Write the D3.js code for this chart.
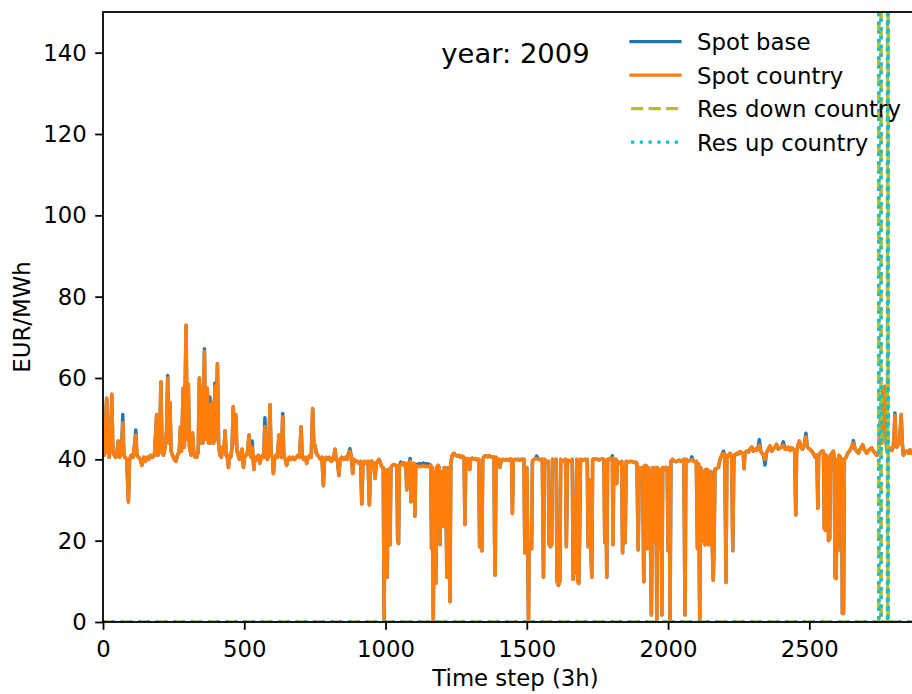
<!DOCTYPE html>
<html>
<head>
<meta charset="utf-8">
<script src="https://cdn.jsdelivr.net/npm/d3@7"></script>
<style>
  body { margin: 0; background: #fff; }
  svg { display: block; font-family: "DejaVu Sans", sans-serif; }
</style>
</head>
<body>
<div id="chart"></div>
<script>
// Series names, in legend order
const seriesNames = ["Spot base", "Spot country", "Res down country", "Res up country"];
const yearLabel = "year: 2009";

// Spot price country as [time step, EUR/MWh] vertices
const spotCountry = [
  [0,44],[4,41],[8,48],[13,55],[17,42],[22,40.5],[27,44],[31,56],[35,42],[40,41],[45,40.5],[50,42],[54,44.5],[58,40.5],[62,41],[66,42],[70,49],[74,41],[78,40.5],[84,40],[90,29.5],[94,40],[100,41],[106,40.5],[111,43],[116,46],[120,41],[126,40.5],[132,40],[138,38.5],[144,40.5],[150,39.5],[156,40.5],[162,40],[168,41],[175,40.5],[182,41],[190,51],[194,41],[200,42],[205,59],[209,42],[214,41],[220,43],[225,47],[229,60],[233,44],[237,54],[241,42],[246,41],[252,40],[258,39.5],[264,41],[270,42],[274,48],[278,42],[284,57.5],[288,43],[294,73],[298,45],[302,58.5],[306,43],[312,41],[317,46.5],[321,42],[326,40.5],[332,40.5],[337,42],[341,60],[345,44],[350,58],[354,44],[359,66.5],[363,45],[369,57.5],[373,44],[378,53.5],[382,44],[388,54],[392,44],[396,58],[400,45],[405,63.5],[409,44],[414,41],[419,40.5],[424,43],[428,42],[432,47],[436,41],[440,40.5],[444,38],[448,41],[452,40.5],[457,43],[461,53],[465,44],[470,51],[474,42],[478,41],[483,40],[488,41.5],[492,42.5],[497,38],[501,40.5],[506,41],[512,42],[517,46],[521,41],[525,40.5],[528,43],[534,37.5],[538,40.5],[544,40],[550,41],[555,39],[560,40.5],[565,41],[569,40.5],[573,48],[577,41],[582,40],[586,41],[591,53.5],[595,41],[600,40.5],[603,36.5],[607,40],[612,41],[617,40.5],[623,46],[627,41],[632,40.5],[636,50.5],[640,41],[645,40],[650,38.5],[655,40],[660,40.5],[666,40],[672,40.5],[678,40],[685,40.5],[690,41],[696,40.5],[701,48],[705,41],[710,40],[716,40.5],[721,39],[726,40.5],[732,41],[737,40.5],[742,52.5],[746,44],[750,43.5],[755,41.5],[760,41],[765,40.5],[770,40],[775,40.5],[780,33.5],[784,40],[790,40.5],[796,40],[802,40.5],[808,39.5],[814,40],[818,41],[821,42.5],[825,40],[830,39.5],[835,36],[839,40],[845,40.5],[852,40],[858,40.5],[864,40],[869,41.5],[874,42],[878,41],[884,36.5],[888,40],[894,39.5],[900,39.5],[906,39],[912,39.5],[916,29],[920,39],[926,39.5],[932,39],[938,39.5],[943,28.8],[947,39.5],[952,39.5],[958,39],[963,35.3],[967,39],[972,39.5],[977,40],[982,39],[986,38.2],[992,38],[995,0],[998,37.5],[1002,37],[1006,11],[1009,37.5],[1012,20],[1016,19],[1019,38],[1024,38.5],[1028,38.7],[1034,38.5],[1040,38.5],[1043,20],[1046,19.3],[1049,38.5],[1054,38.7],[1058,39],[1064,38.5],[1068,39],[1072,39],[1075,32.5],[1078,39],[1083,39],[1087,39.5],[1090,29.6],[1093,39],[1098,38.7],[1101,39],[1104,26],[1107,38.5],[1113,38.2],[1120,38.3],[1127,38.2],[1134,38.5],[1140,38.2],[1147,38.3],[1154,38.2],[1160,38.5],[1163,18],[1166,38],[1169,0],[1172,37],[1175,10],[1178,9.5],[1181,38],[1186,38.5],[1190,38],[1193,19],[1196,37],[1200,30],[1205,23.5],[1208,38],[1213,37],[1217,11],[1220,38],[1225,37],[1228,5],[1231,39],[1236,41],[1242,41.5],[1248,41],[1254,40.8],[1260,41],[1266,40.5],[1272,40.8],[1278,40.5],[1281,24],[1284,40],[1290,40.2],[1295,40],[1298,37.5],[1301,40],[1307,40.3],[1313,40],[1319,40.2],[1325,39.8],[1330,40],[1333,18.5],[1338,19],[1341,17.5],[1344,40],[1350,40.8],[1356,40.9],[1362,40.6],[1368,40.9],[1374,40.5],[1380,40.6],[1384,40.5],[1386,20],[1388,11.5],[1391,40.5],[1396,39.8],[1401,40],[1405,38],[1410,39.8],[1416,40],[1422,39.8],[1428,40],[1434,39.8],[1440,40],[1446,40],[1449,26.7],[1452,39.8],[1458,40],[1464,39.9],[1470,40],[1476,39.8],[1482,40],[1490,40],[1493,17],[1497,17.5],[1500,38],[1503,20],[1506,0],[1508,20],[1512,18],[1517,18],[1520,39.5],[1525,40],[1530,40.1],[1535,40.2],[1541,40],[1547,39.9],[1552,40],[1555,40],[1559,11],[1562,40],[1567,39.5],[1571,39],[1576,39.5],[1579,19],[1584,18.5],[1588,19],[1591,40],[1596,39.7],[1600,39.5],[1604,40],[1607,10],[1612,9],[1617,10],[1620,40],[1625,39.6],[1630,39.5],[1637,40],[1640,18.5],[1644,39.8],[1650,39.6],[1655,39.5],[1661,40],[1664,10.5],[1668,30],[1672,12],[1677,40],[1680,10],[1684,9.5],[1687,21],[1690,40],[1695,39.9],[1700,39.8],[1706,40],[1710,39.8],[1714,40],[1717,18.5],[1720,35],[1726,19],[1730,11],[1733,40],[1738,40.1],[1744,40],[1750,40],[1756,39.9],[1762,40],[1768,40.1],[1773,40],[1776,19.5],[1779,39],[1783,11],[1786,40],[1791,40.1],[1795,40.2],[1800,40],[1803,40.3],[1805,19],[1808,40],[1812,39.8],[1815,40],[1818,34],[1821,39.5],[1826,39.2],[1830,39],[1836,39.5],[1839,17],[1843,38],[1848,19.5],[1852,39.5],[1857,39.4],[1863,39.4],[1869,39.5],[1875,39.4],[1880,39.2],[1885,39.3],[1890,39],[1894,17.7],[1898,38],[1903,37.5],[1910,38],[1914,9.9],[1918,38.5],[1922,38.5],[1927,18],[1931,38],[1936,30],[1941,1.7],[1945,38],[1950,37.5],[1953,20],[1957,38],[1960,0.5],[1963,38],[1966,18],[1970,36],[1975,37.5],[1978,1.7],[1981,38],[1986,37.5],[1992,38],[1997,37.5],[2000,17.5],[2004,38],[2007,0],[2010,39.5],[2016,40],[2022,39.6],[2028,39.4],[2034,39.6],[2040,39.8],[2046,39.5],[2052,39.8],[2056,40],[2060,1.7],[2063,40],[2068,39.7],[2074,39.6],[2080,39.8],[2084,40],[2090,39.5],[2096,39.4],[2100,39.5],[2104,18],[2108,39],[2112,0],[2115,38],[2118,37.5],[2122,37],[2126,20],[2131,19],[2134,37.5],[2140,37.5],[2143,19],[2148,20],[2152,37],[2156,20],[2160,10.3],[2163,20],[2166,37.5],[2172,37.8],[2178,38],[2184,40],[2190,41],[2196,41.5],[2201,41],[2205,9.7],[2208,40],[2213,41],[2219,41.5],[2225,41],[2229,17.5],[2233,41],[2237,41],[2243,41.5],[2249,41.3],[2255,41.9],[2261,41.5],[2266,41.5],[2269,37.7],[2272,41.5],[2278,42],[2284,41.8],[2290,42.5],[2296,43],[2302,42],[2308,42.5],[2314,42.3],[2318,42.6],[2323,43.5],[2328,42],[2333,41.5],[2338,41],[2343,40],[2348,41.5],[2355,42.5],[2361,43.3],[2367,42],[2372,42.5],[2378,43],[2384,43.7],[2390,42.5],[2396,42.8],[2402,43],[2408,43.5],[2414,42.5],[2420,42.5],[2426,43],[2432,42.2],[2438,42.8],[2443,42.5],[2448,42],[2452,26.3],[2455,42],[2460,43.5],[2465,44.5],[2470,43],[2476,42.5],[2482,43.5],[2488,45.5],[2493,43],[2497,42.7],[2502,42.5],[2508,42],[2514,41.5],[2520,40.6],[2524,41],[2527,41],[2530,28],[2533,41],[2538,41.5],[2544,42],[2550,42],[2553,23],[2557,22.5],[2560,41],[2565,40],[2568,20],[2572,20.5],[2575,41],[2580,41.5],[2585,42],[2588,40],[2591,11],[2595,10.7],[2598,40],[2601,17.5],[2605,41],[2610,40.5],[2614,40],[2617,2.1],[2621,2.1],[2624,40],[2630,40.5],[2636,41.5],[2642,42],[2648,42.8],[2652,43.5],[2656,44],[2662,42.5],[2668,42],[2674,41.5],[2680,42.5],[2684,43],[2689,43.6],[2694,42.5],[2699,42],[2703,41.5],[2708,42],[2714,42.5],[2721,42.8],[2727,42],[2733,41.5],[2739,41],[2745,41.5],[2748,45],[2752,50],[2756,44],[2760,57.5],[2764,48],[2768,58],[2772,44],[2776,42],[2781,43],[2786,42.5],[2792,42.2],[2797,43],[2800,46],[2803,50.8],[2806,45],[2810,43],[2815,43.6],[2820,45],[2825,51],[2829,44],[2833,41],[2839,41.8],[2845,42],[2851,41.5],[2856,42.3],[2862,41.5],[2868,41.8],[2874,41.2],[2880,41.5],[2890,41],[2900,41.5],[2910,41],[2919,41.2]
];

// Spot base: same as country except at these steps
const spotBaseDiff = [
  [70,51],[116,47.2],[229,60.6],[359,67.2],[378,55.3],[396,58.8],[528,44.5],[573,50.2],[636,51.3],[874,42.6],
  [1054,39.3],[1064,39.1],[1087,40.2],[1113,38.8],[1120,38.9],[1127,38.8],[1134,39.1],[1140,38.8],[1147,38.9],[1154,38.8],
  [1535,40.8],[1803,40.9],[2084,40.6],[2196,42],[2323,44.8],[2343,38.6],[2408,44.3],[2488,46.4],[2656,44.6],[2803,51.4]
];

// Reserve prices: zero except two spikes far above the axis
const resDown = [[0,0],[2746,0],[2746,500],[2754,500],[2754,0],[2777,0],[2777,500],[2779,500],[2779,0],[2919,0]];
const resUp = [[0,0],[2746,0],[2746,500],[2754,500],[2754,0],[2777,0],[2777,500],[2779,500],[2779,0],[2919,0]];

const xTicks = [0, 500, 1000, 1500, 2000, 2500];
const yTicks = [0, 20, 40, 60, 80, 100, 120, 140];

// Build spot base from country + differences
const baseMap = new Map(spotBaseDiff);
const spotBase = spotCountry.map(([t, v]) => [t, baseMap.has(t) ? baseMap.get(t) : v]);

// Dimensions
const width = 912;
const height = 694;
const margin = { top: 12, left: 103 };
const plotW = 825;
const plotH = 610;

const svg = d3
  .select("#chart")
  .append("svg")
  .attr("width", width)
  .attr("height", height);

svg.append("rect").attr("width", width).attr("height", height).attr("fill", "#fff");

const xScale = d3.scaleLinear().domain([0, 2920]).range([margin.left, margin.left + plotW]);
const yScale = d3.scaleLinear().domain([0, 150]).range([margin.top + plotH, margin.top]);

svg
  .append("clipPath")
  .attr("id", "clip")
  .append("rect")
  .attr("x", margin.left)
  .attr("y", margin.top)
  .attr("width", plotW)
  .attr("height", plotH);

const line = d3
  .line()
  .x((d) => xScale(d[0]))
  .y((d) => yScale(d[1]));

const lw = 3.5;
const styles = [
  { color: "#1f77b4", dash: null, cap: "square" },
  { color: "#ff7f0e", dash: null, cap: "square" },
  { color: "#bcbd22", dash: `${3.7 * 3.3},${1.6 * 3.3}`, cap: "butt" },
  { color: "#17becf", dash: `${1 * 3.3},${1.65 * 3.3}`, cap: "butt" },
];
const series = [spotBase, spotCountry, resDown, resUp];

const plot = svg.append("g").attr("clip-path", "url(#clip)");
series.forEach((data, i) => {
  plot
    .append("path")
    .datum(data)
    .attr("d", line)
    .attr("fill", "none")
    .attr("stroke", styles[i].color)
    .attr("stroke-width", lw)
    .attr("stroke-linejoin", "round")
    .attr("stroke-linecap", styles[i].cap)
    .attr("stroke-dasharray", styles[i].dash);
});

// Axes
const fontSize = 22.8;
const xAxis = svg
  .append("g")
  .attr("transform", `translate(0, ${margin.top + plotH})`)
  .call(d3.axisBottom(xScale).tickValues(xTicks).tickSize(7.8).tickFormat(d3.format("d")));
xAxis.select(".domain").remove();
xAxis.selectAll("line").attr("stroke", "#000").attr("stroke-width", 1.8);
xAxis
  .selectAll("text")
  .attr("y", 35)
  .attr("dy", null)
  .attr("fill", "#000")
  .style("font-size", `${fontSize}px`)
  .style("font-family", "DejaVu Sans");

const yAxis = svg
  .append("g")
  .attr("transform", `translate(${margin.left}, 0)`)
  .call(d3.axisLeft(yScale).tickValues(yTicks).tickSize(7.8).tickPadding(8.5));
yAxis.select(".domain").remove();
yAxis.selectAll("line").attr("stroke", "#000").attr("stroke-width", 1.8);
yAxis
  .selectAll("text")
  .attr("dy", "0.33em")
  .attr("fill", "#000")
  .style("font-size", `${fontSize}px`)
  .style("font-family", "DejaVu Sans");

// Spines
svg
  .append("rect")
  .attr("x", margin.left)
  .attr("y", margin.top)
  .attr("width", plotW)
  .attr("height", plotH)
  .attr("fill", "none")
  .attr("stroke", "#000")
  .attr("stroke-width", 1.8);

// Axis labels
svg
  .append("text")
  .attr("x", margin.left + plotW / 2)
  .attr("y", 686)
  .attr("text-anchor", "middle")
  .style("font-size", `${fontSize}px`)
  .text("Time step (3h)");

svg
  .append("text")
  .attr("transform", `translate(30, ${margin.top + plotH / 2}) rotate(-90)`)
  .attr("text-anchor", "middle")
  .style("font-size", `${fontSize}px`)
  .text("EUR/MWh");

// Year label
svg
  .append("text")
  .attr("x", margin.left + plotW / 2)
  .attr("y", 63)
  .attr("text-anchor", "middle")
  .style("font-size", "27.4px")
  .text(yearLabel);

// Legend
const legend = svg.append("g");
seriesNames.forEach((name, i) => {
  const ly = 41.7 + i * 33.5;
  legend
    .append("line")
    .attr("x1", 631)
    .attr("x2", 680)
    .attr("y1", ly)
    .attr("y2", ly)
    .attr("stroke", styles[i].color)
    .attr("stroke-width", 3.3)
    .attr("stroke-linecap", styles[i].cap)
    .attr("stroke-dasharray", styles[i].dash);
  legend
    .append("text")
    .attr("x", 697)
    .attr("y", ly + 8.3)
    .style("font-size", `${fontSize}px`)
    .text(name);
});
</script>
</body>
</html>
